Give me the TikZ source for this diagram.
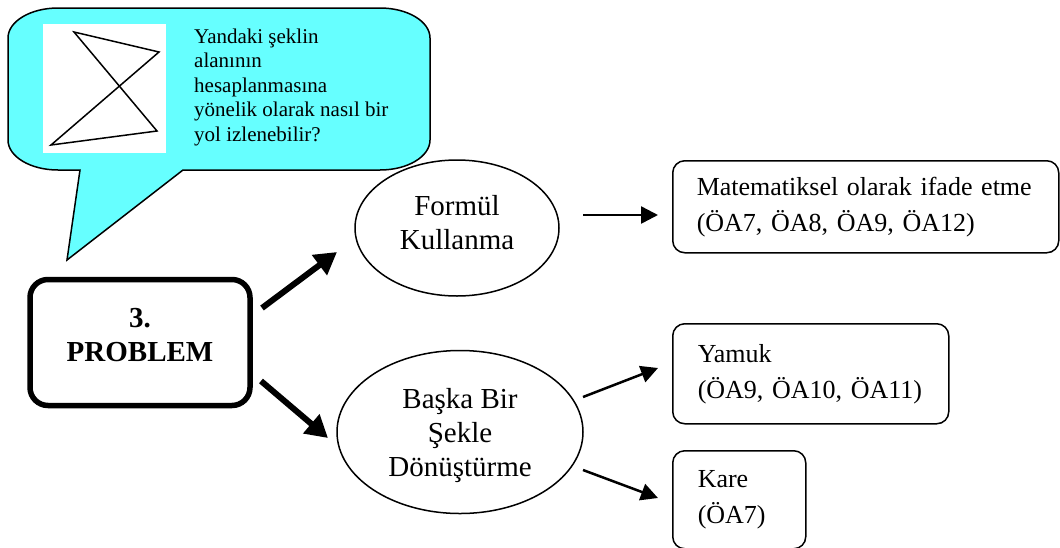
\documentclass[tikz,border=0pt]{standalone}
\usepackage{fontspec}
\setmainfont{Liberation Serif}
\usetikzlibrary{shapes.geometric,arrows.meta}
\definecolor{callcyan}{RGB}{102,255,255}
\begin{document}
\begin{tikzpicture}[x=1pt,y=-1pt,
  ovalfont/.style={font=\fontsize{29}{34}\selectfont},
  boxfont/.style={font=\fontsize{26}{36}\selectfont},
  oval/.style={ellipse,draw,line width=1.5pt,inner sep=0pt},
  ovaltext/.style={align=center,inner sep=0pt,ovalfont},
  resbox/.style={draw,line width=1.5pt,rounded corners=12pt,align=left,inner xsep=25pt,inner ysep=0pt,anchor=north west,boxfont},
  thickarrow/.style={line width=6pt,-{Triangle[length=22pt,width=24pt]}},
  thinarrow/.style={line width=2.5pt,-{Triangle[length=17pt,width=17pt]}}
]
\useasboundingbox (0,0) rectangle (1060,547);

% callout
\draw[fill=callcyan, line width=1.5pt, line join=miter]
  (80,170) -- (67,260) -- (183,170) -- (380,170)
  .. controls (407.6,170) and (430,156.6) .. (430,140) -- (430,38)
  .. controls (430,21.4) and (407.6,8) .. (380,8) -- (58,8)
  .. controls (30.4,8) and (8,21.4) .. (8,38) -- (8,140)
  .. controls (8,156.6) and (30.4,170) .. (58,170) -- cycle;
\fill[white] (43,24) rectangle (166,153);
\draw[line width=1.5pt, line join=miter] (74,32) -- (159,52) -- (51,145) -- (157,131) -- cycle;
\node[anchor=west, align=left, inner sep=0pt, font=\fontsize{21}{24.5}\selectfont] (question) at (194,87)
  {Yandaki şeklin\\alanının\\hesaplanmasına\\yönelik olarak nasıl bir\\yol izlenebilir?};

% main box
\node[draw, line width=5.5pt, rounded corners=18pt, minimum width=220pt, minimum height=126pt] (prob) at (140,342.5) {};
\node[align=center, inner sep=0pt, font=\bfseries\fontsize{29}{34}\selectfont] (probtext) at (140,335) {3.\\PROBLEM};

% ellipses
\node[oval, minimum width=204pt, minimum height=136pt] (formul) at (457,228) {};
\node[ovaltext] (formultext) at (457,223) {Formül\\Kullanma};
\node[oval, minimum width=246pt, minimum height=163pt] (baska) at (460,432) {};
\node[ovaltext] (baskatext) at (460,436) {Başka Bir\\Şekle\\Dönüştürme};

% result boxes
\node[resbox, minimum width=386pt, minimum height=92pt, text width=338pt, inner xsep=24pt] (mat) at (672,160)
  {Matematiksel olarak ifade etme\\(ÖA7, ÖA8, ÖA9, ÖA12)};
\node[resbox, minimum width=276pt, minimum height=100pt, text width=226pt] (yamuk) at (672,323)
  {Yamuk\\(ÖA9, ÖA10, ÖA11)};
\node[resbox, minimum width=133pt, minimum height=98pt, text width=83pt] (kare) at (672,450)
  {Kare\\(ÖA7)};

% arrow end points
\coordinate (p1s) at (262,308); \coordinate (p1e) at (337,252);
\coordinate (p2s) at (261,381); \coordinate (p2e) at (328,438);
\coordinate (f1s) at (583,215); \coordinate (f1e) at (658,215);
\coordinate (b1s) at (583,397); \coordinate (b1e) at (658,368);
\coordinate (b2s) at (583,470); \coordinate (b2e) at (658,498);

\draw[thickarrow] (p1s) -- (p1e);
\draw[thickarrow] (p2s) -- (p2e);
\draw[thinarrow] (f1s) -- (f1e);
\draw[thinarrow] (b1s) -- (b1e);
\draw[thinarrow] (b2s) -- (b2e);
\end{tikzpicture}
\end{document}
